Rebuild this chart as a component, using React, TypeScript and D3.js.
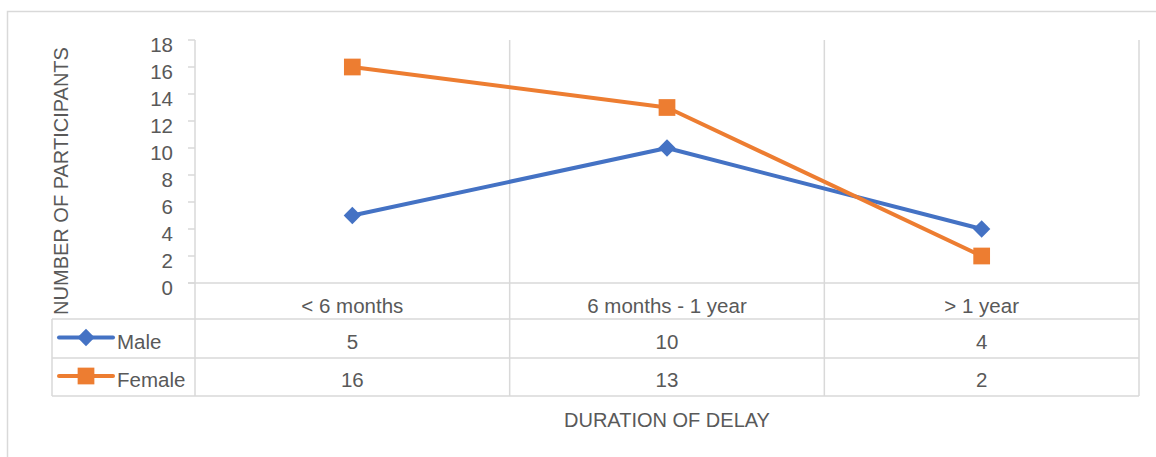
import React, { useRef, useEffect } from "react";
import * as d3 from "d3";

const categories = ["< 6 months", "6 months - 1 year", "> 1 year"];
const male = [5, 10, 4];
const female = [16, 13, 2];
const yTicks = [0, 2, 4, 6, 8, 10, 12, 14, 16, 18];

const series = [
  { name: "Male", values: male, color: "#4472C4", marker: "diamond" },
  { name: "Female", values: female, color: "#ED7D31", marker: "square" },
];

const W = 1156;
const H = 457;
const FONT = "'Liberation Sans', Arial, sans-serif";
const TEXT = "#595959";
const GRID = "#D9D9D9";
const FS = 20.5;

const App = () => {
  const ref = useRef<SVGSVGElement>(null);

  useEffect(() => {
    const svg = d3.select(ref.current);
    svg.selectAll("*").remove();

    const left = 195;
    const right = 1139;
    const top = 40;
    const zeroY = 283;
    const rowH = [36, 39, 38]; // category row, Male row, Female row
    const legendLeft = 52;

    const x = d3.scaleBand().domain(categories).range([left, right]);
    const y = d3.scaleLinear().domain([0, 18]).range([zeroY, top]);

    const catBottom = zeroY + rowH[0];
    const maleBottom = catBottom + rowH[1];
    const tableBottom = maleBottom + rowH[2];

    // outer chart border
    svg
      .append("rect")
      .attr("x", 7.5)
      .attr("y", 11.5)
      .attr("width", W)
      .attr("height", H)
      .attr("fill", "#fff")
      .attr("stroke", GRID)
      .attr("stroke-width", 1.5);

    const g = svg.append("g");

    // vertical grid / table lines at category boundaries
    const bounds = [...categories.map((c) => x(c)!), right];
    bounds.forEach((bx) => {
      g.append("line")
        .attr("x1", bx)
        .attr("x2", bx)
        .attr("y1", top)
        .attr("y2", tableBottom)
        .attr("stroke", GRID)
        .attr("stroke-width", 1.5);
    });

    // zero line + y ticks
    g.append("line")
      .attr("x1", left - 7)
      .attr("x2", right)
      .attr("y1", zeroY)
      .attr("y2", zeroY)
      .attr("stroke", GRID)
      .attr("stroke-width", 1.5);

    yTicks.forEach((t) => {
      g.append("line")
        .attr("x1", left - 7)
        .attr("x2", left)
        .attr("y1", y(t))
        .attr("y2", y(t))
        .attr("stroke", GRID)
        .attr("stroke-width", 1.5);
      g.append("text")
        .attr("x", 173)
        .attr("y", y(t) + 5)
        .attr("dy", "0.35em")
        .attr("text-anchor", "end")
        .attr("font-family", FONT)
        .attr("font-size", FS)
        .attr("fill", TEXT)
        .text(t);
    });

    // table horizontal lines
    [catBottom, maleBottom, tableBottom].forEach((ly) => {
      g.append("line")
        .attr("x1", legendLeft)
        .attr("x2", right)
        .attr("y1", ly)
        .attr("y2", ly)
        .attr("stroke", GRID)
        .attr("stroke-width", 1.5);
    });
    g.append("line")
      .attr("x1", legendLeft)
      .attr("x2", legendLeft)
      .attr("y1", catBottom)
      .attr("y2", tableBottom)
      .attr("stroke", GRID)
      .attr("stroke-width", 1.5);

    // category labels
    categories.forEach((c) => {
      g.append("text")
        .attr("x", x(c)! + x.bandwidth() / 2)
        .attr("y", zeroY + rowH[0] / 2 + 5)
        .attr("dy", "0.35em")
        .attr("text-anchor", "middle")
        .attr("font-family", FONT)
        .attr("font-size", FS)
        .attr("fill", TEXT)
        .text(c);
    });

    const marker = (type: string) =>
      type === "diamond"
        ? d3.symbol().type(d3.symbolSquare).size(150)()
        : d3.symbol().type(d3.symbolSquare).size(280)();

    const line = d3
      .line<number>()
      .x((_, i) => x(categories[i])! + x.bandwidth() / 2)
      .y((d) => y(d));

    series.forEach((s, si) => {
      // plot line + markers
      g.append("path")
        .attr("d", line(s.values))
        .attr("fill", "none")
        .attr("stroke", s.color)
        .attr("stroke-width", 4)
        .attr("stroke-linejoin", "round");

      s.values.forEach((v, i) => {
        const cx = x(categories[i])! + x.bandwidth() / 2;
        g.append("path")
          .attr("d", marker(s.marker))
          .attr(
            "transform",
            `translate(${cx},${y(v)})${s.marker === "diamond" ? " rotate(45)" : ""}`
          )
          .attr("fill", s.color);
      });

      // table row
      const rowTop = si === 0 ? catBottom : maleBottom;
      const rowMid = rowTop + rowH[si + 1] / 2;
      g.append("line")
        .attr("x1", 59)
        .attr("x2", 113)
        .attr("y1", rowMid - 1)
        .attr("y2", rowMid - 1)
        .attr("stroke", s.color)
        .attr("stroke-width", 4)
        .attr("stroke-linecap", "round");
      g.append("path")
        .attr("d", marker(s.marker))
        .attr(
          "transform",
          `translate(86,${rowMid - 1})${s.marker === "diamond" ? " rotate(45)" : ""}`
        )
        .attr("fill", s.color);
      g.append("text")
        .attr("x", 117)
        .attr("y", rowMid + 3)
        .attr("dy", "0.35em")
        .attr("font-family", FONT)
        .attr("font-size", FS)
        .attr("fill", TEXT)
        .text(s.name);

      s.values.forEach((v, i) => {
        g.append("text")
          .attr("x", x(categories[i])! + x.bandwidth() / 2)
          .attr("y", rowMid + 3)
          .attr("dy", "0.35em")
          .attr("text-anchor", "middle")
          .attr("font-family", FONT)
          .attr("font-size", FS)
          .attr("fill", TEXT)
          .text(v);
      });
    });

    // axis titles
    g.append("text")
      .attr("x", 667)
      .attr("y", 420)
      .attr("dy", "0.35em")
      .attr("text-anchor", "middle")
      .attr("font-family", FONT)
      .attr("font-size", 20)
      .attr("fill", TEXT)
      .text("DURATION OF DELAY");

    g.append("text")
      .attr("transform", `translate(68,181) rotate(-90)`)
      .attr("text-anchor", "middle")
      .attr("font-family", FONT)
      .attr("font-size", 20)
      .attr("fill", TEXT)
      .text("NUMBER OF PARTICIPANTS");

    return () => {
      d3.select(ref.current).selectAll("*").remove();
    };
  }, []);

  return (
    <svg
      ref={ref}
      width={W}
      height={H}
      style={{ position: "absolute", left: 0, top: 0, background: "#fff" }}
    ></svg>
  );
};

export default App;
